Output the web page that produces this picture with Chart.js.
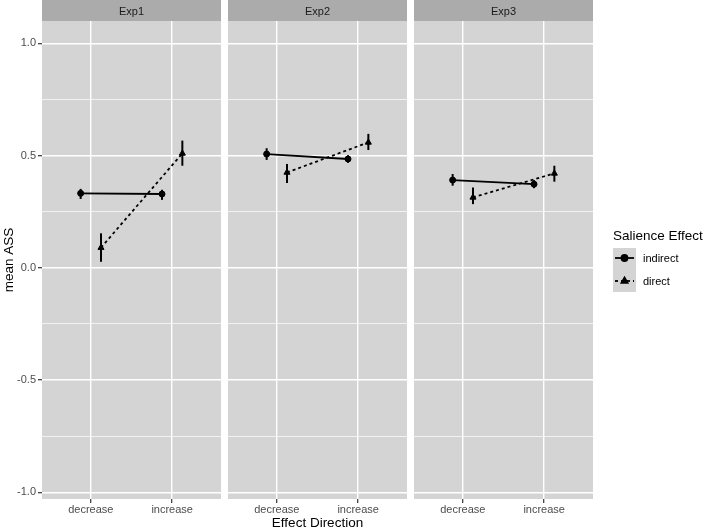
<!DOCTYPE html>
<html>
<head>
<meta charset="utf-8">
<script src="https://cdn.jsdelivr.net/npm/chart.js@4.4.1/dist/chart.umd.min.js"></script>
<style>
  body { margin: 0; background: #fff; width: 706px; height: 529px; position: relative; overflow: hidden; }
  .panel { position: absolute; top: 0; height: 529px; }
</style>
</head>
<body>
<div class="panel" style="left:0;width:221px"><canvas id="c1"></canvas></div>
<div class="panel" style="left:228px;width:179px"><canvas id="c2"></canvas></div>
<div class="panel" style="left:414px;width:292px"><canvas id="c3"></canvas></div>
<script>
const FONT = '"Liberation Sans", Arial, sans-serif';

// data
const experiments = ["Exp1", "Exp2", "Exp3"];
const directions = ["decrease", "increase"];
const seriesNames = ["indirect", "direct"];

const indirectMean = [[0.332, 0.329], [0.507, 0.485], [0.391, 0.373]];
const indirectLow = [[0.307, 0.303], [0.481, 0.468], [0.366, 0.355]];
const indirectHigh = [[0.352, 0.348], [0.533, 0.502], [0.418, 0.391]];

const directMean = [[0.090, 0.510], [0.425, 0.559], [0.314, 0.421]];
const directLow = [[0.027, 0.455], [0.378, 0.525], [0.284, 0.384]];
const directHigh = [[0.154, 0.567], [0.463, 0.597], [0.358, 0.455]];

const yTicks = [-1.0, -0.75, -0.5, -0.25, 0.0, 0.25, 0.5, 0.75, 1.0];
const dodge = 0.125;

const isMajor = (v) => Math.abs(v * 2 - Math.round(v * 2)) < 1e-6;

// grey panel + strip on top
const panelBg = {
	id: "panelBg",
	beforeDraw(chart, args, opts) {
		const { ctx, chartArea: a } = chart;
		ctx.save();
		ctx.fillStyle = "#d4d4d4";
		ctx.fillRect(a.left, a.top, a.width, a.height);
		ctx.fillStyle = "#ababab";
		ctx.fillRect(a.left, 0, a.width, a.top);
		ctx.fillStyle = "#1a1a1a";
		ctx.font = `11px ${FONT}`;
		ctx.textAlign = "center";
		ctx.textBaseline = "middle";
		ctx.fillText(opts.label, (a.left + a.right) / 2, a.top / 2 + 1);
		ctx.restore();
	},
};

// vertical error bars
const errorBars = {
	id: "errorBars",
	afterDatasetsDraw(chart) {
		const { ctx, scales: { x, y } } = chart;
		ctx.save();
		ctx.strokeStyle = "#000";
		ctx.lineWidth = 2;
		chart.data.datasets.forEach((ds) => {
			ds.data.forEach((pt, j) => {
				const px = x.getPixelForValue(pt.x);
				ctx.beginPath();
				ctx.moveTo(px, y.getPixelForValue(ds.errLow[j]));
				ctx.lineTo(px, y.getPixelForValue(ds.errHigh[j]));
				ctx.stroke();
			});
		});
		ctx.restore();
	},
};

// ggplot style legend at the right
const sideLegend = {
	id: "sideLegend",
	afterDraw(chart, args, opts) {
		if (!opts.show) return;
		const { ctx, chartArea: a } = chart;
		const left = a.right + 20;
		ctx.save();
		ctx.fillStyle = "#000";
		ctx.font = `13.5px ${FONT}`;
		ctx.textBaseline = "alphabetic";
		ctx.fillText("Salience Effect", left, 240);
		ctx.fillStyle = "#d4d4d4";
		ctx.fillRect(left, 248, 23, 44);
		const keys = [
			{ y: 258, dash: [], style: "circle" },
			{ y: 281, dash: [3, 3], style: "triangle" },
		];
		keys.forEach((k, i) => {
			ctx.strokeStyle = "#000";
			ctx.lineWidth = 1.8;
			ctx.setLineDash(k.dash);
			ctx.beginPath();
			ctx.moveTo(left + 2, k.y);
			ctx.lineTo(left + 21, k.y);
			ctx.stroke();
			ctx.setLineDash([]);
			ctx.fillStyle = "#000";
			Chart.helpers.drawPoint(ctx, { pointStyle: k.style, radius: k.style === "circle" ? 3 : 3.5, rotation: 0, borderWidth: 1 }, left + 11.5, k.y);
			ctx.fill();
			ctx.fillStyle = "#000";
			ctx.font = `11px ${FONT}`;
			ctx.textBaseline = "middle";
			ctx.fillText(seriesNames[i], left + 30, k.y + 1);
		});
		ctx.restore();
	},
};

function makePanel(canvasId, idx) {
	const first = idx === 0;
	const middle = idx === 1;
	const last = idx === 2;

	const pts = (means, shift) => means[idx].map((v, j) => ({ x: j + 1 + shift, y: v }));

	return new Chart(document.getElementById(canvasId), {
		type: "line",
		data: {
			datasets: [
				{
					label: seriesNames[0],
					data: pts(indirectMean, -dodge),
					errLow: indirectLow[idx],
					errHigh: indirectHigh[idx],
					borderColor: "#000",
					borderWidth: 1.8,
					pointStyle: "circle",
					pointRadius: 3,
					pointBackgroundColor: "#000",
					pointBorderColor: "#000",
					pointBorderWidth: 1,
				},
				{
					label: seriesNames[1],
					data: pts(directMean, dodge),
					errLow: directLow[idx],
					errHigh: directHigh[idx],
					borderColor: "#000",
					borderWidth: 1.8,
					borderDash: [3, 3],
					pointStyle: "triangle",
					pointRadius: 3.5,
					pointBackgroundColor: "#000",
					pointBorderColor: "#000",
					pointBorderWidth: 1,
				},
			],
		},
		options: {
			responsive: true,
			maintainAspectRatio: false,
			animation: false,
			layout: { autoPadding: false, padding: { top: 21, left: 0, bottom: 0, right: last ? 113 : 0 } },
			scales: {
				x: {
					type: "linear",
					min: 0.4,
					max: 2.6,
					afterBuildTicks: (scale) => {
						scale.ticks = directions.map((d, i) => ({ value: i + 1 }));
					},
					afterFit: (scale) => { scale.height = 30; },
					ticks: {
						autoSkip: false,
						maxRotation: 0,
						padding: 0,
						color: "#4d4d4d",
						font: { family: FONT, size: 11 },
						callback: (v) => directions[Math.round(v) - 1],
					},
					grid: { color: "#fff", lineWidth: 1.4, tickColor: "#333", tickLength: 4, tickWidth: 1.2 },
					border: { display: false },
					title: {
						display: middle,
						text: "Effect Direction",
						color: "#000",
						padding: { top: 0, bottom: -1 },
						font: { family: FONT, size: 13.5, lineHeight: 1 },
					},
				},
				y: {
					min: -1.03,
					max: 1.1,
					afterBuildTicks: (scale) => {
						scale.ticks = yTicks.map((v) => ({ value: v }));
					},
					afterFit: (scale) => { scale.width = first ? 42 : 0; },
					ticks: {
						display: first,
						autoSkip: false,
						padding: 2,
						color: "#4d4d4d",
						font: { family: FONT, size: 11 },
						callback: (v) => (isMajor(v) ? v.toFixed(1) : ""),
					},
					grid: {
						color: "#fff",
						lineWidth: (ctx) => (ctx.tick && isMajor(ctx.tick.value) ? 1.4 : 0.7),
						drawTicks: first,
						tickLength: 4,
						tickWidth: 1.2,
						tickColor: (ctx) => (ctx.tick && isMajor(ctx.tick.value) ? "#333" : "rgba(0,0,0,0)"),
					},
					border: { display: false },
					title: {
						display: first,
						text: "mean ASS",
						color: "#000",
						padding: { top: 3, bottom: 0 },
						font: { family: FONT, size: 13.5, lineHeight: 1 },
					},
				},
			},
			plugins: {
				legend: { display: false },
				tooltip: { enabled: false },
				panelBg: { label: experiments[idx] },
				sideLegend: { show: last },
			},
		},
		plugins: [panelBg, errorBars, sideLegend],
	});
}

makePanel("c1", 0);
makePanel("c2", 1);
makePanel("c3", 2);
</script>
</body>
</html>
